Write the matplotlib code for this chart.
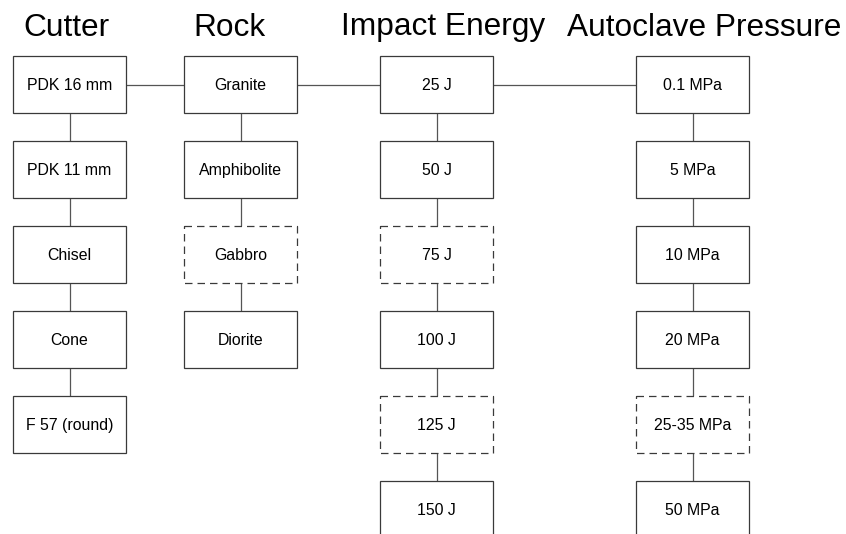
import matplotlib.pyplot as plt
from matplotlib.patches import Rectangle

plt.rcParams['font.family'] = ['Liberation Sans', 'DejaVu Sans']

# columns of the diagram
titles = ['Cutter', 'Rock', 'Impact Energy', 'Autoclave Pressure']
cutter = ['PDK 16 mm', 'PDK 11 mm', 'Chisel', 'Cone', 'F 57 (round)']
rock = ['Granite', 'Amphibolite', 'Gabbro', 'Diorite']
energy = ['25 J', '50 J', '75 J', '100 J', '125 J', '150 J']
pressure = ['0.1 MPa', '5 MPa', '10 MPa', '20 MPa', '25-35 MPa', '50 MPa']
# which entries are drawn with a dashed outline
cutter_dashed = [False, False, False, False, False]
rock_dashed = [False, False, True, False]
energy_dashed = [False, False, True, False, True, False]
pressure_dashed = [False, False, False, False, True, False]

columns = [cutter, rock, energy, pressure]
dashed = [cutter_dashed, rock_dashed, energy_dashed, pressure_dashed]

# layout (pixels)
col_left = [13, 184, 380, 636]
title_x = [66.5, 229, 443, 704]
box_w, box_h = 113, 57
top, step = 56, 85

fig = plt.figure(figsize=(8.46, 5.34), dpi=100)
ax = fig.add_axes([0, 0, 1, 1])
ax.set_xlim(0, 846)
ax.set_ylim(534, 0)
ax.axis('off')

edge = '#3a3a3a'
line_col = '#555555'

for c, items in enumerate(columns):
    x0 = col_left[c]
    cx = x0 + box_w / 2
    ax.text(title_x[c], 27.5, titles[c], fontsize=22.8, ha='center', va='center', color='black')
    for r, label in enumerate(items):
        y0 = top + r * step
        ls = (0, (6, 4)) if dashed[c][r] else '-'
        ax.add_patch(Rectangle((x0, y0), box_w, box_h, facecolor='white',
                               edgecolor=edge, linewidth=0.9, linestyle=ls, zorder=2))
        ax.text(cx, y0 + box_h / 2 + 1, label, fontsize=11.4, ha='center', va='center', zorder=3)
        if r > 0:
            ax.plot([cx, cx], [y0 - step + box_h, y0], color=line_col, linewidth=0.9, zorder=1)
    # horizontal link to next column on first row
    if c < len(columns) - 1:
        yc = top + box_h / 2
        ax.plot([x0 + box_w, col_left[c + 1]], [yc, yc], color=line_col, linewidth=0.9, zorder=1)

fig.savefig('out.png', dpi=100, facecolor='white')
